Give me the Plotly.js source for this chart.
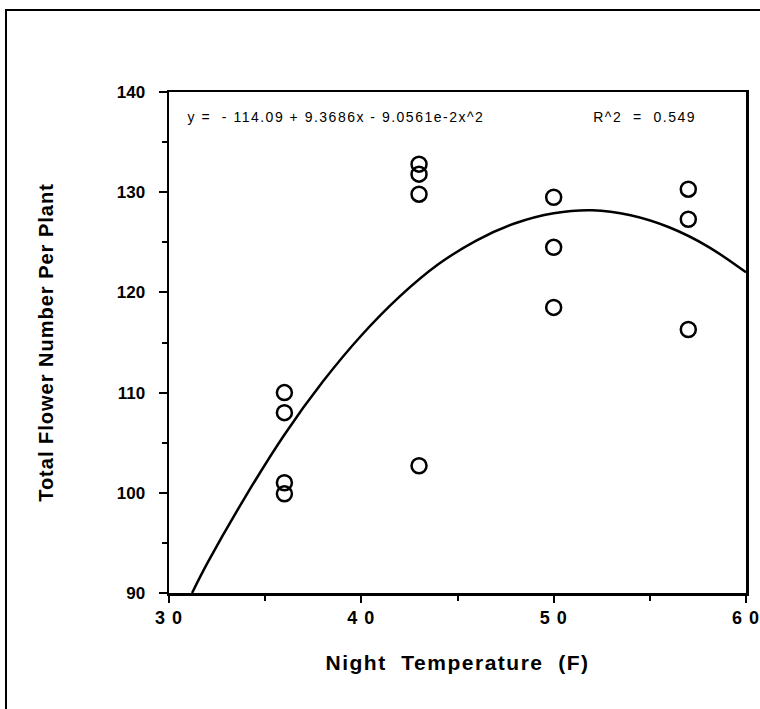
<!DOCTYPE html>
<html>
<head>
<meta charset="utf-8">
<script src="https://cdn.plot.ly/plotly-3.0.1.min.js"></script>
<style>
  html, body { margin: 0; padding: 0; background: #fff; }
  #wrap { position: relative; width: 760px; height: 709px; overflow: hidden; }
  #chart { width: 760px; height: 709px; }
  #frame { position: absolute; left: 5px; top: 9px; width: 800px; height: 800px;
           border-left: 2px solid #000; border-top: 2px solid #000; pointer-events: none; }
  #chart .annotation-text { letter-spacing: 1.5px; }
  #chart .xtitle { letter-spacing: 1.5px; }
  #chart .ytitle { letter-spacing: 1px; }
  #chart .xtick text { letter-spacing: 1px; }
</style>
</head>
<body>
<div id="wrap">
  <div id="chart"></div>
  <div id="frame"></div>
</div>
<script>
// Observed data: night temperature (F) vs total flower number per plant
var tempX = [36, 36, 36, 36, 43, 43, 43, 43, 50, 50, 50, 57, 57, 57];
var flowersY = [110.0, 108.0, 101.0, 99.9, 132.8, 131.8, 129.8, 102.7, 129.5, 124.5, 118.5, 130.3, 127.3, 116.3];

// Fitted curve
var curveX = [31.2, 32, 34, 36, 38, 40, 42, 44, 46, 48, 50, 52, 54, 56, 58, 60];
var curveY = [90.0, 93.0, 99.7, 105.8, 111.1, 115.7, 119.6, 122.8, 125.2, 126.9, 127.9, 128.2, 127.7, 126.5, 124.6, 122.0];

// Tick labels
var xTickVals = [30, 40, 50, 60];
var xTickText = ["3 0", "4 0", "5 0", "6 0"];
var yTickVals = [90, 100, 110, 120, 130, 140];
var yTickText = ["90", "100", "110", "120", "130", "140"];

var equationText = "y =\u00a0\u00a0- 114.09 + 9.3686x - 9.0561e-2x^2";
var r2Text = "R^2\u00a0\u00a0=\u00a0\u00a00.549";

var FONT = "Liberation Sans, Arial, Helvetica, sans-serif";

var traces = [
  {
    x: curveX, y: curveY, type: "scatter", mode: "lines",
    line: { color: "#000", width: 2.5, shape: "spline" },
    hoverinfo: "skip", showlegend: false
  },
  {
    x: tempX, y: flowersY, type: "scatter", mode: "markers",
    marker: { symbol: "circle-open", size: 15, color: "#000", line: { color: "#000", width: 2.5 } },
    showlegend: false
  }
];

var layout = {
  width: 760, height: 709,
  margin: { l: 169, r: 14, t: 92, b: 116 },
  paper_bgcolor: "#fff", plot_bgcolor: "#fff",
  font: { family: FONT, color: "#000" },
  showlegend: false,
  xaxis: {
    range: [30, 60], showgrid: false, zeroline: false,
    showline: true, linecolor: "#000", linewidth: 2.5, mirror: true,
    tickmode: "array", tickvals: xTickVals, ticktext: xTickText,
    ticks: "outside", ticklen: 7, tickwidth: 2, tickcolor: "#000",
    minor: { dtick: 5, tick0: 30, ticks: "outside", ticklen: 5, tickwidth: 2, tickcolor: "#000", showgrid: false },
    tickfont: { family: FONT, size: 18, weight: "bold" },
    ticklabelstandoff: 0,
    title: { text: "Night\u00a0\u00a0Temperature\u00a0\u00a0(F)", font: { family: FONT, size: 21, weight: "bold" }, standoff: 28 }
  },
  yaxis: {
    range: [90, 140], showgrid: false, zeroline: false,
    showline: true, linecolor: "#000", linewidth: 2.5, mirror: true,
    tickmode: "array", tickvals: yTickVals, ticktext: yTickText,
    ticks: "outside", ticklen: 8, tickwidth: 2, tickcolor: "#000",
    minor: { dtick: 5, tick0: 90, ticks: "outside", ticklen: 5, tickwidth: 2, tickcolor: "#000", showgrid: false },
    tickfont: { family: FONT, size: 17, weight: "bold" },
    ticklabelstandoff: 10,
    title: { text: "Total Flower Number Per Plant", font: { family: FONT, size: 20, weight: "bold" }, standoff: 58 }
  },
  annotations: [
    {
      xref: "paper", yref: "paper", x: 0.290, y: 0.95, xanchor: "center", yanchor: "middle",
      text: equationText, showarrow: false,
      font: { family: FONT, size: 14, color: "#000" }
    },
    {
      xref: "paper", yref: "paper", x: 0.824, y: 0.95, xanchor: "center", yanchor: "middle",
      text: r2Text, showarrow: false,
      font: { family: FONT, size: 14, color: "#000" }
    }
  ]
};

Plotly.newPlot("chart", traces, layout, { displayModeBar: false, staticPlot: true });
</script>
</body>
</html>
